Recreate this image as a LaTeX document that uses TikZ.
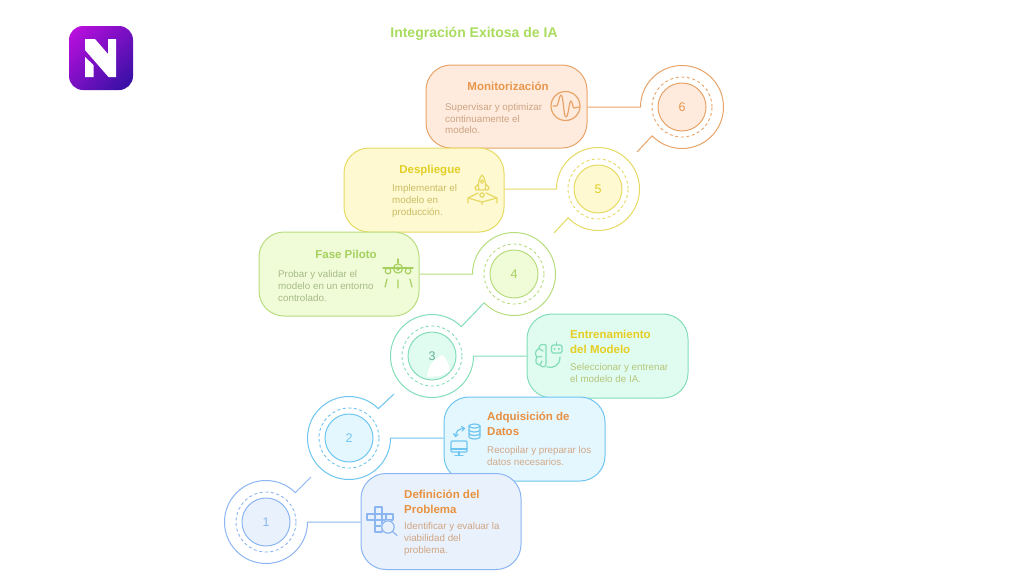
\documentclass[tikz,border=0pt]{standalone}
\usepackage{fontspec}
\setmainfont{Liberation Sans}
\usetikzlibrary{calc}
\definecolor{oL}{HTML}{E8A468}\definecolor{oF}{HTML}{FEEBDD}\definecolor{oT}{HTML}{E8964C}\definecolor{oD}{HTML}{CDA483}
\definecolor{yL}{HTML}{E6DA62}\definecolor{yF}{HTML}{FFF9D2}\definecolor{yT}{HTML}{E2CF25}\definecolor{yD}{HTML}{C9BC62}
\definecolor{gL}{HTML}{B9DD7E}\definecolor{gF}{HTML}{F0FBD8}\definecolor{gT}{HTML}{A6D05E}\definecolor{gD}{HTML}{A6BC86}
\definecolor{mL}{HTML}{82DDB8}\definecolor{mF}{HTML}{E0FBF0}\definecolor{mT}{HTML}{E6CE22}\definecolor{mD}{HTML}{B6C67A}
\definecolor{bL}{HTML}{6EC6F0}\definecolor{bF}{HTML}{E4F6FE}\definecolor{bT}{HTML}{E88F40}\definecolor{bD}{HTML}{D2A988}
\definecolor{vL}{HTML}{8CB6F2}\definecolor{vF}{HTML}{E9F1FD}\definecolor{vT}{HTML}{E8923F}\definecolor{vD}{HTML}{CFA682}
\definecolor{headC}{HTML}{A9DC5E}
\definecolor{logoA}{HTML}{C40FE2}\definecolor{logoB}{HTML}{2A10A0}
\tikzset{
  cardbox/.style={draw=#1,line width=1pt,rounded corners=25pt,inner sep=0pt},
  numdisc/.style={circle,draw=#1,line width=1pt,minimum size=48pt,inner sep=0pt,font=\fontsize{12.5}{14}\selectfont},
  ringline/.style={draw=#1,line width=1pt,line join=round},
  dashring/.style={draw=#1,line width=.9pt,dash pattern=on 3pt off 2.6pt},
  tit/.style={anchor=west,inner sep=0pt,align=left,font=\fontsize{11.5}{14.7}\selectfont\bfseries},
  titc/.style={inner sep=0pt,font=\fontsize{11.5}{14.7}\selectfont\bfseries},
  desc/.style={anchor=west,inner sep=0pt,align=left,font=\fontsize{9.8}{11.8}\selectfont},
  icon/.style={draw=#1,line width=1.2pt,line cap=round,line join=round},
}
\begin{document}
\begin{tikzpicture}[x=1pt,y=-1pt]
\useasboundingbox (0,0) rectangle (1024,576);
\fill[white] (0,0) rectangle (1024,576);
% logo
\begin{scope}
\clip[rounded corners=14pt] (69,26) rectangle (133,90);
\shade[left color=logoA,right color=logoB,shading angle=45] (55,12) rectangle (147,104);
\end{scope}
\fill[white] (85,39) -- (95,39) -- (108,54) -- (108,39) -- (116,39) -- (116,77) -- (108.5,77) -- (85,50) -- cycle;
\fill[white] (85,57) -- (93.5,65) -- (93.5,77) -- (85,77) -- cycle;
\node[inner sep=0pt,text=headC,font=\fontsize{14}{16}\selectfont\bfseries] (head) at (474,33.5) {Integración Exitosa de IA};

% cards
\node[cardbox=oL,fill=oF,minimum width=161pt,minimum height=83pt] (card6) at (506.5,106.5) {};
\node[cardbox=yL,fill=yF,minimum width=160pt,minimum height=84pt] (card5) at (424,190) {};
\node[cardbox=gL,fill=gF,minimum width=160pt,minimum height=84pt] (card4) at (339,274) {};
\node[cardbox=mL,fill=mF,minimum width=161pt,minimum height=84pt] (card3) at (607.5,356) {};
\node[cardbox=bL,fill=bF,minimum width=161pt,minimum height=84pt] (card2) at (524.5,439) {};
\node[cardbox=vL,fill=vF,minimum width=160pt,minimum height=96pt] (card1) at (441,521.5) {};

% numbered rings
\node[numdisc=oL,fill=oF,text=oT] (ring6) at (682,107) {6};
\node[numdisc=yL,fill=yF,text=yT] (ring5) at (598,189) {5};
\node[numdisc=gL,fill=gF,text=gT] (ring4) at (514,274) {4};
\node[numdisc=mL,fill=mF] (ring3) at (432,356) {};
\fill[white] (427,377) .. controls (428,368) and (430,362) .. (442,355) .. controls (447,358) and (449,365) .. (450,371) -- (440,376) -- cycle;
\node[inner sep=0pt,text=mL!80!black,font=\fontsize{12.5}{14}\selectfont] (num3) at (432,356) {3};
\node[numdisc=bL,fill=bF,text=bL] (ring2) at (349,438) {2};
\node[numdisc=vL,fill=vF,text=vL] (ring1) at (266,522) {1};
\foreach \r/\c in {ring6/oL,ring5/yL,ring4/gL,ring3/mL,ring2/bL,ring1/vL}{
  \draw[dashring=\c] (\r.center) circle[radius=30pt];
}
\coordinate (tail6) at (637,152);
\coordinate (tail5) at (554,233);
\coordinate (tail3) at (484.1,302.8);
\coordinate (tail2) at (394,394);
\coordinate (tail1) at (311,477);
% connectors: card -- open outer ring -- tail
\draw[ringline=oL] (card6.east |- ring6) -- ($(ring6)+(-41.5,0)$) arc[start angle=180,delta angle=-316,radius=41.5pt] -- (tail6);
\draw[ringline=yL] (card5.east |- ring5) -- ($(ring5)+(-41.5,0)$) arc[start angle=180,delta angle=-316,radius=41.5pt] -- (tail5);
\draw[ringline=gL] (card4.east |- ring4) -- ($(ring4)+(-41.5,0)$) arc[start angle=180,delta angle=-316,radius=41.5pt];
\draw[ringline=mL] (card3.west |- ring3) -- ($(ring3)+(41.5,0)$) arc[start angle=0,delta angle=-315,radius=41.5pt] -- (tail3);
\draw[ringline=bL] (card2.west |- ring2) -- ($(ring2)+(41.5,0)$) arc[start angle=0,delta angle=-315,radius=41.5pt] -- (tail2);
\draw[ringline=vL] (card1.west |- ring1) -- ($(ring1)+(41.5,0)$) arc[start angle=0,delta angle=-315,radius=41.5pt] -- (tail1);

% card 6 text
\node[titc,text=oT] (t6) at (508,86) {Monitorización};
\node[desc,text=oD] (d6) at (445,118.5) {Supervisar y optimizar\\continuamente el\\modelo.};
% card 5 text
\node[titc,text=yT] (t5) at (430,171) {Despliegue};
\node[desc,text=yD] (d5) at (392,201) {Implementar el\\modelo en\\producción.};
% card 4 text
\node[titc,text=gT] (t4) at (346,254) {Fase Piloto};
\node[desc,text=gD] (d4) at (278,286) {Probar y validar el\\modelo en un entorno\\controlado.};
% card 3 text
\node[tit,text=mT] (t3) at (570,342) {Entrenamiento\\del Modelo};
\node[desc,text=mD] (d3) at (570,373) {Seleccionar y entrenar\\el modelo de IA.};
% card 2 text
\node[tit,text=bT] (t2) at (487,423.5) {Adquisición de\\Datos};
\node[desc,text=bD] (d2) at (487,456) {Recopilar y preparar los\\datos necesarios.};
% card 1 text
\node[tit,text=vT] (t1) at (404,501.5) {Definición del\\Problema};
\node[desc,text=vD] (d1) at (404,539) {Identificar y evaluar la\\viabilidad del\\problema.};

% icon 6: pulse
\draw[icon=oL] (565.5,106) circle[radius=14.5pt];
\draw[icon=oL] (553,106) -- (556.5,106) .. controls (558.5,106) and (559,95) .. (561,95) .. controls (563.5,95) and (563.5,117) .. (566,117) .. controls (568.5,117) and (569,101) .. (571,101) .. controls (572.5,101) and (572.5,108) .. (574,108) -- (579,107);
% icon 5: rocket over pad
\draw[icon=yL] (482,175) .. controls (479,178) and (477.5,184) .. (479,190) -- (485,190) .. controls (486.5,184) and (485,178) .. (482,175) -- cycle;
\draw[icon=yL] (482,181.5) circle[radius=1.8pt] (482,195) circle[radius=2.2pt];
\draw[icon=yL] (478.5,184) -- (475,187.5) -- (476,190) -- (479,189.5) (485.5,184) -- (489,187.5) -- (488,190) -- (485,189.5);
\draw[icon=yL] (468,203) -- (468,198) -- (478,193) (497,203) -- (497,198) -- (486,193) (468,198) -- (482,202) -- (497,198) (482,202) -- (482,204.5);
% icon 4: aeroplane and runway
\draw[icon=gT] (383,268) -- (413,268) (398,259) -- (398,263);
\draw[icon=gT] (398,268.5) circle[radius=4.6pt] (398,268.5) circle[radius=1.6pt];
\draw[icon=gT] (388,271) circle[radius=2.8pt] (408,271) circle[radius=2.8pt];
\draw[icon=gT] (387,279) -- (385,287) (398,280) -- (398,288) (410,279) -- (412,287);
% icon 3: brain and robot
\draw[icon=mL] (546,345) .. controls (542,343.5) and (539,345) .. (539,348.5) .. controls (535,350) and (534.5,355) .. (537,357) .. controls (534.5,360) and (536,365) .. (540,365) .. controls (542,368) and (547,368) .. (546,362) -- cycle;
\draw[icon=mL] (539,348.5) -- (543,351) (537,357) -- (542,356.5) (540,365) -- (542,361);
\draw[icon=mL] (547,367) .. controls (553,368.5) and (560,366) .. (560,357);
\draw[icon=mL,rounded corners=1.5pt] (551.5,345) rectangle (562,353);
\draw[icon=mL] (556.8,345) -- (556.8,342);
\fill[mL] (554.5,349) circle[radius=1.1pt] (559,349) circle[radius=1.1pt];
% icon 2: database, arrows, monitor
\draw[icon=bL] (474.5,426) ellipse[x radius=5.5pt,y radius=2pt];
\draw[icon=bL] (469,426) -- (469,437) arc[start angle=180,end angle=360,x radius=5.5pt,y radius=2pt] -- (480,426);
\draw[icon=bL] (469,430) arc[start angle=180,end angle=360,x radius=5.5pt,y radius=2pt] (469,433.5) arc[start angle=180,end angle=360,x radius=5.5pt,y radius=2pt];
\draw[icon=bL] (455.5,436) .. controls (456,431) and (459,428.5) .. (464,428.5);
\draw[icon=bL] (461.5,426.5) -- (464.5,428.5) -- (462,431) (453.5,433.5) -- (455.5,436.5) -- (458,434.5);
\draw[icon=bL,rounded corners=1pt] (451,441) rectangle (467,452);
\draw[icon=bL] (451,449) -- (467,449) (459,452) -- (459,455) (455,455.5) -- (463,455.5);
% icon 1: crossword and magnifier
\draw[icon=vL] (375,507) rectangle (382,532);
\draw[icon=vL] (367,514) rectangle (393,520);
\draw[icon=vL] (375,526) -- (382,526) (386,514) -- (386,520);
\fill[vF] (388,527) circle[radius=7pt];
\draw[icon=vL] (388,527) circle[radius=6.2pt] (392.5,531.5) -- (397,535.5);
\end{tikzpicture}
\end{document}
